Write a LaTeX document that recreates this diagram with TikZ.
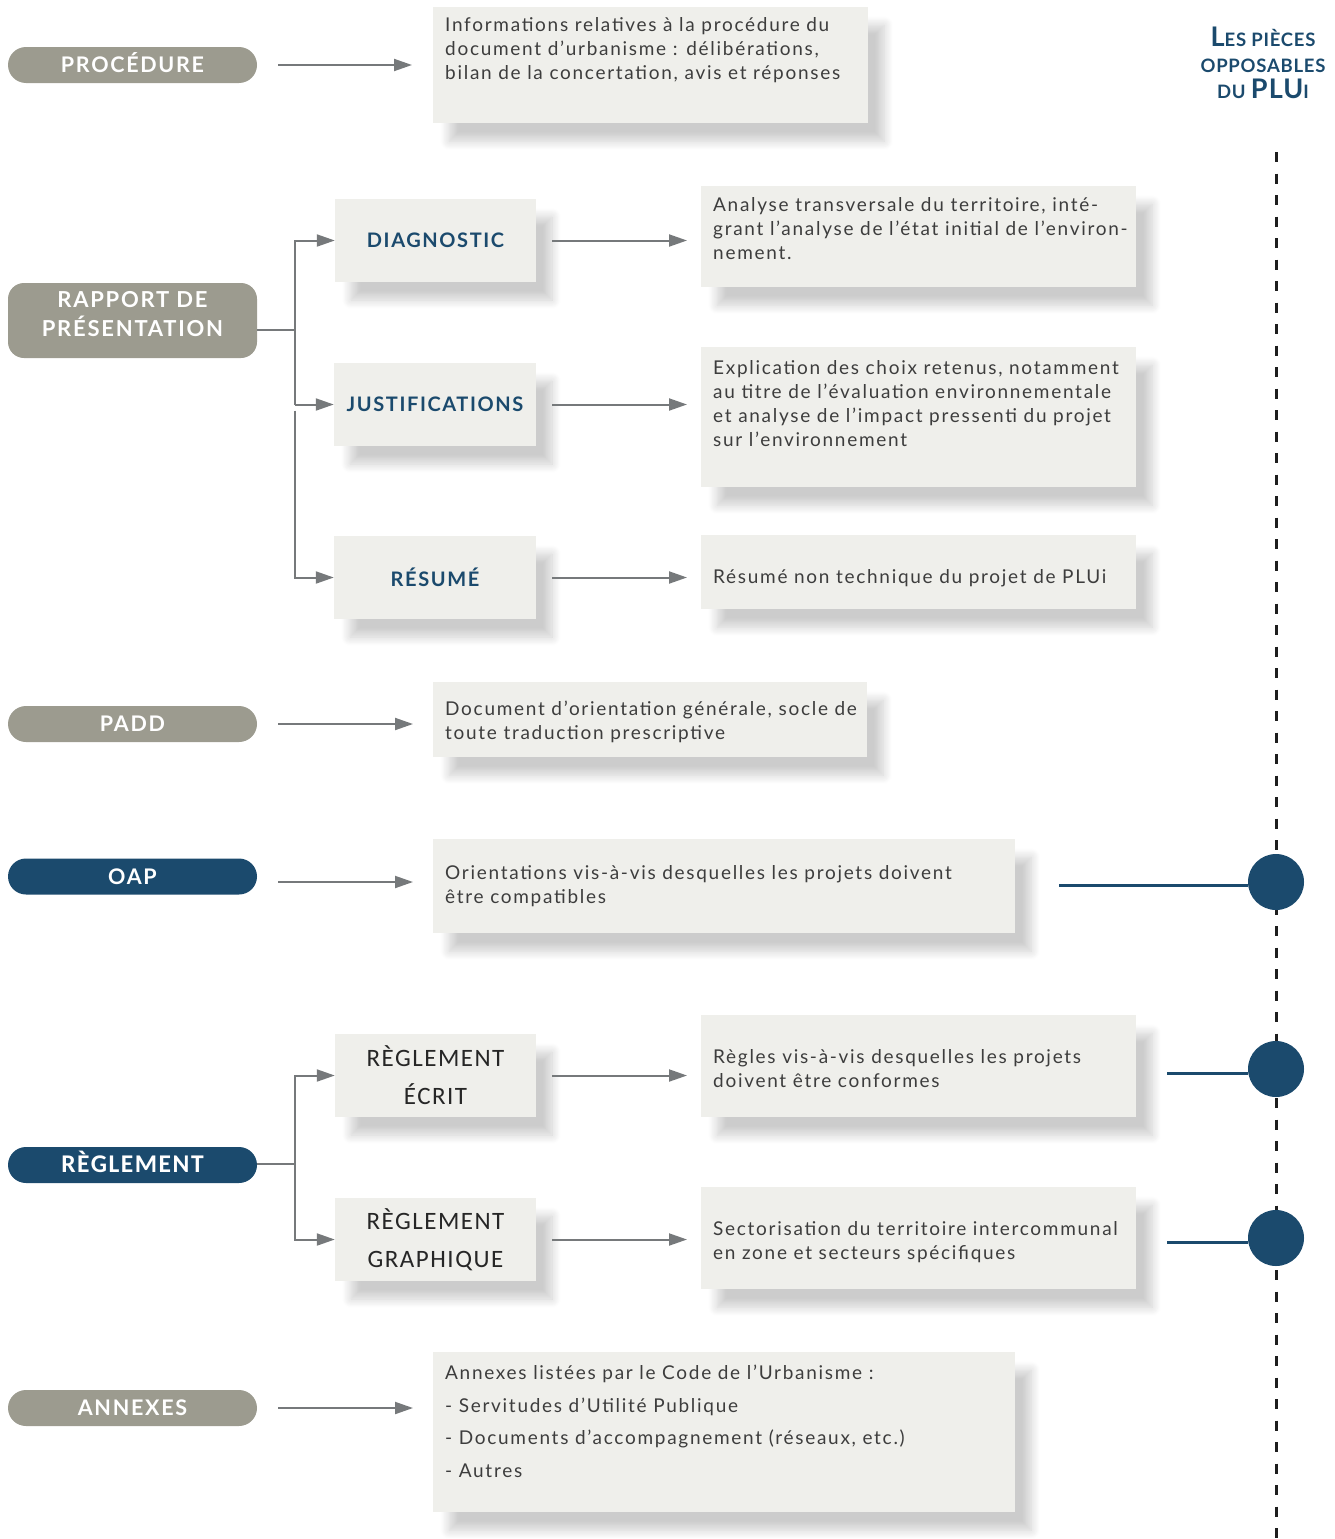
\documentclass[tikz,border=0pt]{standalone}
\usepackage{fontspec}
\setmainfont{Lato}
\newfontfamily\descfont{Lato}[LetterSpace=9]
\newfontfamily\headfont{Lato}[LetterSpace=8]
\newfontfamily\calfont{Carlito}[LetterSpace=6]
\newfontfamily\titlefont{Lato}[LetterSpace=4]
\usetikzlibrary{arrows.meta,shadows.blur,calc}
\definecolor{pillgray}{HTML}{9C9B8F}
\definecolor{navy}{HTML}{1B4A6D}
\definecolor{boxfill}{HTML}{EFEFEB}
\definecolor{linegray}{HTML}{76797B}
\definecolor{textdark}{HTML}{3D3D3D}
\definecolor{dashcol}{HTML}{1E1E1E}
\newcommand\tbig[1]{{\fontsize{27}{30}\selectfont #1}}
\begin{document}
\begin{tikzpicture}[x=1pt,y=-1pt,
  softshadow/.style={blur shadow={shadow xshift=16pt, shadow yshift=-18pt, shadow blur radius=9pt, shadow opacity=20, shadow blur steps=12}},
  pill/.style={rectangle, rounded corners=18pt, minimum width=249pt, minimum height=36pt, inner sep=0pt, fill=pillgray, text=white, font=\headfont\bfseries\fontsize{21.5}{24}\selectfont},
  pillnavy/.style={pill, fill=navy},
  subbox/.style={rectangle, fill=boxfill, minimum width=201pt, minimum height=83pt, inner sep=0pt, softshadow, text=navy, font=\headfont\bfseries\fontsize{20}{24}\selectfont},
  regbox/.style={subbox, text=black!85, align=center, font=\calfont\fontsize{25}{38}\selectfont},
  descbox/.style={rectangle, fill=boxfill, anchor=north west, inner sep=0pt, softshadow},
  desctext/.style={anchor=north west, inner sep=0pt, align=left, text=textdark, font=\descfont\fontsize{19}{24}\selectfont},
  link/.style={draw=linegray, line width=2pt},
  arr/.style={link, -{Triangle[length=18pt,width=12pt]}},
  dashline/.style={draw=dashcol, line width=3pt, dash pattern=on 10pt off 11.5pt},
  blueline/.style={draw=navy, line width=3pt},
  dot/.style={circle, fill=navy, minimum size=56pt, inner sep=0pt},
  title/.style={align=center, text=navy, inner sep=0pt, font=\titlefont\bfseries\fontsize{18.5}{20}\selectfont}
]
\useasboundingbox (0,0) rectangle (1335,1539);

% title and dashed axis
\node[title] (ttl) at (1263,63) {\tbig{L}ES PIÈCES\\[6pt]OPPOSABLES\\[6pt]DU \tbig{PLU}I};
\coordinate (dtop) at (1276,152);
\coordinate (dbot) at (1276,1539);
\draw[dashline] (dtop) -- (dbot);

% PROCEDURE
\node[pill] (proc) at (132.5,65) {PROCÉDURE\rule[-6pt]{0pt}{0pt}};
\node[descbox, minimum width=435pt, minimum height=116pt] (dproc) at (433,7) {};
\node[desctext] (tproc) at (445,14.2) {\strut Informations relatives à la procédure du\\document d’urbanisme : délibérations,\\bilan de la concertation, avis et réponses};
\draw[arr, shorten <=21pt, shorten >=21pt] (proc.east) -- (proc.east -| dproc.west);

% RAPPORT DE PRESENTATION
\node[pill, rounded corners=16pt, minimum height=75pt, align=center, font=\headfont\bfseries\fontsize{22}{29}\selectfont] (rapp) at (132.5,320.5) {RAPPORT DE\\PRÉSENTATION\rule[-14pt]{0pt}{0pt}};
\node[subbox] (diag) at (435.5,240.5) {DIAGNOSTIC};
\node[subbox, minimum width=202pt] (just) at (435,404.5) {JUSTIFICATIONS};
\node[subbox, minimum width=202pt] (resu) at (435,577.5) {RÉSUMÉ};
\coordinate (rbus) at (295,330);
\draw[link] (rapp.east |- rbus) -- (rbus);
\draw[arr] (rbus |- just.west) -- (rbus |- diag.west) -- (diag.west);
\draw[arr] (rbus |- just.west) -- (just.west);
\draw[arr] ($(rbus |- just.west)+(0,6)$) -- (rbus |- resu.west) -- (resu.west);

\node[descbox, minimum width=435pt, minimum height=101pt] (ddiag) at (701,186) {};
\node[desctext] (tdiag) at (713,194.2) {\strut Analyse transversale du territoire, inté-\\grant l’analyse de l’état initial de l’environ-\\nement.};
\node[descbox, minimum width=435pt, minimum height=140pt] (djust) at (701,347) {};
\node[desctext] (tjust) at (713,357.2) {\strut Explication des choix retenus, notamment\\au titre de l’évaluation environnementale\\et analyse de l’impact pressenti du projet\\sur l’environnement};
\node[descbox, minimum width=435pt, minimum height=74pt] (dres) at (701,535) {};
\node[desctext] (tres) at (713,566.2) {\strut Résumé non technique du projet de PLUi};
\draw[arr, shorten <=16pt, shorten >=14pt] (diag.east) -- (diag.east -| ddiag.west);
\draw[arr, shorten <=16pt, shorten >=14pt] (just.east) -- (just.east -| djust.west);
\draw[arr, shorten <=16pt, shorten >=14pt] (resu.east) -- (resu.east -| dres.west);

% PADD
\node[pill] (padd) at (132.5,724) {PADD};
\node[descbox, minimum width=434pt, minimum height=75pt] (dpadd) at (433,682) {};
\node[desctext] (tpadd) at (445,698.2) {\strut Document d’orientation générale, socle de\\toute traduction prescriptive};
\draw[arr, shorten <=21pt, shorten >=20pt] (padd.east) -- (padd.east -| dpadd.west);

% OAP
\node[pillnavy] (oap) at (132.5,876.5) {OAP};
\node[descbox, minimum width=582pt, minimum height=94pt] (doap) at (433,839) {};
\node[desctext] (toap) at (445,862.2) {\strut Orientations vis-à-vis desquelles les projets doivent\\être compatibles};
\coordinate (oapy) at (0,882);
\draw[arr, shorten <=21pt, shorten >=20pt] (oap.east |- oapy) -- (oapy -| doap.west);

% REGLEMENT
\node[pillnavy, font=\calfont\bfseries\fontsize{25.5}{28}\selectfont] (regl) at (132.5,1165) {RÈGLEMENT\rule[-7pt]{0pt}{0pt}};
\node[regbox] (recr) at (435.5,1075.5) {RÈGLEMENT\\ÉCRIT};
\node[regbox] (rgra) at (435.5,1239.5) {RÈGLEMENT\\GRAPHIQUE};
\coordinate (rbus2) at (295,1164);
\draw[link] (regl.east |- rbus2) -- (rbus2);
\draw[arr] (rbus2) |- (recr.west);
\draw[arr] (rbus2) |- (rgra.west);
\node[descbox, minimum width=435pt, minimum height=102pt] (decr) at (701,1015) {};
\node[desctext] (tecr) at (713,1046.2) {\strut Règles vis-à-vis desquelles les projets\\doivent être conformes};
\node[descbox, minimum width=435pt, minimum height=102pt] (dgra) at (701,1187) {};
\node[desctext] (tgra) at (713,1218.2) {\strut Sectorisation du territoire intercommunal\\en zone et secteurs spécifiques};
\draw[arr, shorten <=16pt, shorten >=14pt] (recr.east) -- (recr.east -| decr.west);
\draw[arr, shorten <=16pt, shorten >=14pt] (rgra.east) -- (rgra.east -| dgra.west);

% ANNEXES
\node[pill] (anne) at (132.5,1408) {ANNEXES};
\node[descbox, minimum width=582pt, minimum height=160pt] (dann) at (433,1352) {};
\node[desctext, font=\descfont\fontsize{19}{32.5}\selectfont] (tann) at (445,1356.6) {\strut Annexes listées par le Code de l’Urbanisme :\\- Servitudes d’Utilité Publique\\- Documents d’accompagnement (réseaux, etc.)\\- Autres};
\draw[arr, shorten <=21pt, shorten >=20pt] (anne.east) -- (anne.east -| dann.west);

% opposable links
\node[dot] (c1) at (1276,882) {};
\node[dot] (c2) at (1276,1069) {};
\node[dot] (c3) at (1276,1238) {};
\coordinate (l1) at (1059,885);
\coordinate (l2) at (1167,1073);
\coordinate (l3) at (1167,1242);
\draw[blueline] (l1) -- (l1 -| c1.west);
\draw[blueline] (l2) -- (l2 -| c2.west);
\draw[blueline] (l3) -- (l3 -| c3.west);
\end{tikzpicture}
\end{document}
